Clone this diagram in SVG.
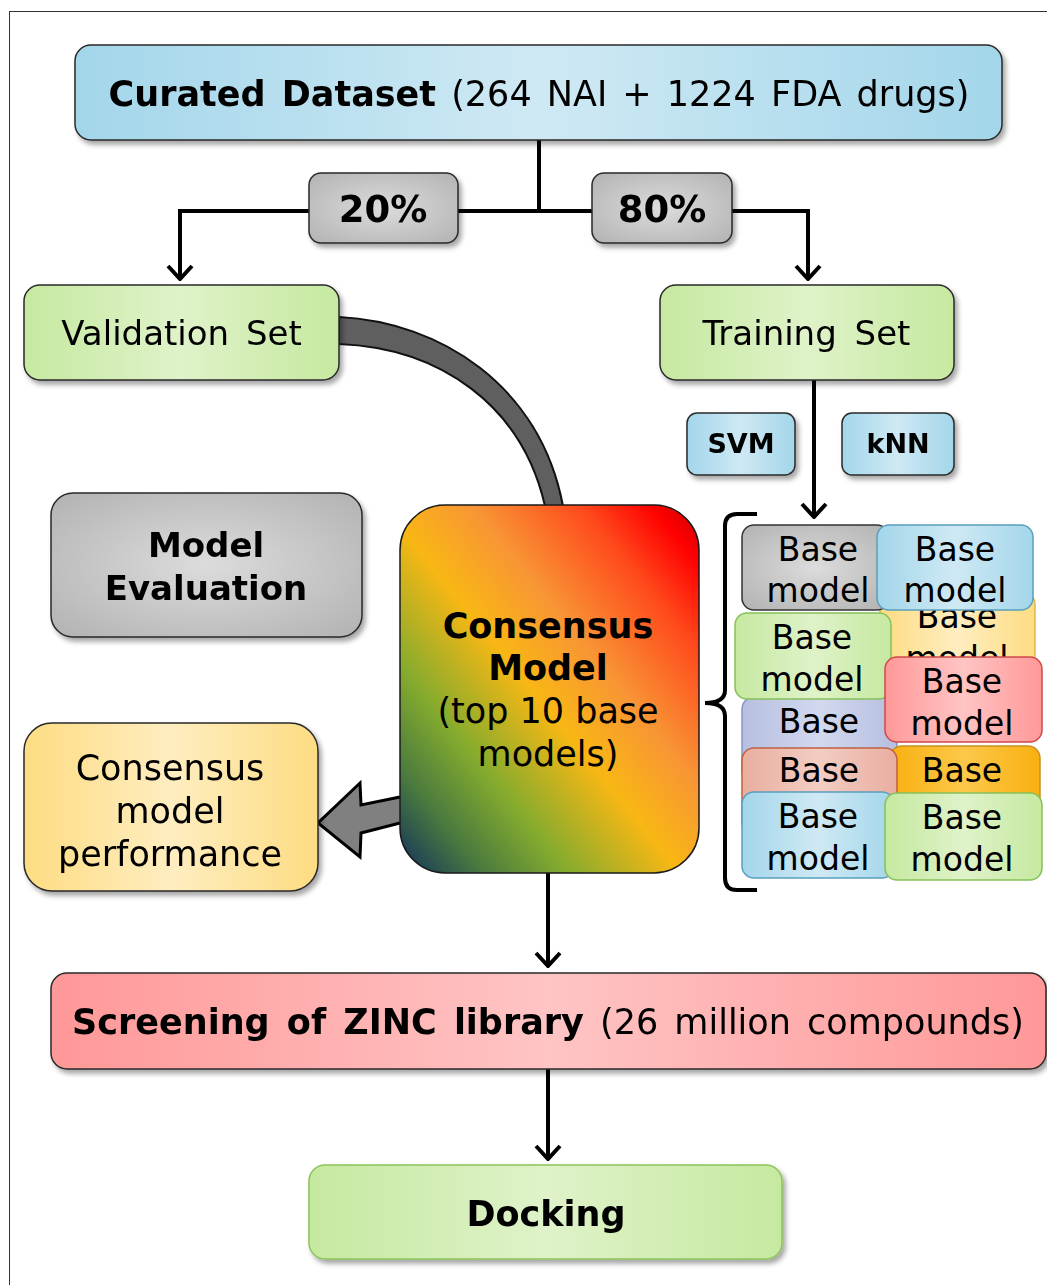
<svg xmlns="http://www.w3.org/2000/svg" width="1047" height="1285" viewBox="0 0 1047 1285">
<defs>
<style>
text{font-family:"DejaVu Sans","Verdana",sans-serif;fill:#000;}
.t35{font-size:35px;}
.t34{font-size:34px;}
.b{font-weight:bold;}
.box{stroke:#2a2a2a;stroke-width:1.5;}
.bm{stroke-width:1.5;}
.conn{stroke:#000;stroke-width:4;fill:none;}
.bm text{font-size:33px;}
</style>
<filter id="sh" x="-10%" y="-10%" width="130%" height="140%">
<feDropShadow dx="3" dy="4" stdDeviation="2.5" flood-color="#000" flood-opacity="0.35"/>
</filter>
<linearGradient id="gBlue" x1="0" y1="0" x2="1" y2="0"><stop offset="0" stop-color="#a3d6ea"/><stop offset="0.5" stop-color="#cfe9f4"/><stop offset="1" stop-color="#a3d6ea"/></linearGradient>
<linearGradient id="gGreen" x1="0" y1="0" x2="1" y2="0"><stop offset="0" stop-color="#c6e9a0"/><stop offset="0.5" stop-color="#dff2c9"/><stop offset="1" stop-color="#c6e9a0"/></linearGradient>
<radialGradient id="gGray" cx="0.5" cy="0.5" r="0.7"><stop offset="0" stop-color="#dcdcdc"/><stop offset="1" stop-color="#b2b2b2"/></radialGradient>
<linearGradient id="gYellow" x1="0" y1="0" x2="1" y2="0"><stop offset="0" stop-color="#fddc82"/><stop offset="0.5" stop-color="#feedc0"/><stop offset="1" stop-color="#fddc82"/></linearGradient>
<linearGradient id="gRed" x1="0" y1="0" x2="1" y2="0"><stop offset="0" stop-color="#ff9898"/><stop offset="0.5" stop-color="#ffc4c4"/><stop offset="1" stop-color="#ff9898"/></linearGradient>
<linearGradient id="gLav" x1="0" y1="0" x2="1" y2="0"><stop offset="0" stop-color="#b6bfe0"/><stop offset="0.5" stop-color="#d2d8ef"/><stop offset="1" stop-color="#b6bfe0"/></linearGradient>
<linearGradient id="gSalmon" x1="0" y1="0" x2="1" y2="0"><stop offset="0" stop-color="#e8ae9f"/><stop offset="0.5" stop-color="#f3cdc3"/><stop offset="1" stop-color="#e8ae9f"/></linearGradient>
<linearGradient id="gOrange" x1="0" y1="0" x2="1" y2="0"><stop offset="0" stop-color="#f9b010"/><stop offset="0.5" stop-color="#fcc84a"/><stop offset="1" stop-color="#f9b010"/></linearGradient>
<linearGradient id="gCons" x1="0" y1="1" x2="1" y2="0"><stop offset="0" stop-color="#102f5e"/><stop offset="0.14" stop-color="#4a7a3e"/><stop offset="0.28" stop-color="#84ab2e"/><stop offset="0.47" stop-color="#f8b714"/><stop offset="0.62" stop-color="#f89535"/><stop offset="0.8" stop-color="#ff4a1c"/><stop offset="0.92" stop-color="#ff0000"/><stop offset="1" stop-color="#c80000"/></linearGradient>
<marker id="ah" viewBox="-16 -14 18 28" refX="0" refY="0" markerWidth="18" markerHeight="28" markerUnits="userSpaceOnUse" orient="auto">
<path d="M-13,-12 L0,0 L-13,12" fill="none" stroke="#000" stroke-width="4" stroke-linejoin="miter"/>
</marker>
</defs>

<rect x="9.5" y="11.5" width="1100" height="1300" fill="#fff" stroke="#333" stroke-width="1"/>

<g id="connectors">
<path class="conn" d="M539,140 L539,211"/>
<path class="conn" d="M180,211 L808,211" stroke-width="5"/>
<path class="conn" d="M180,209 L180,279" marker-end="url(#ah)"/>
<path class="conn" d="M808,209 L808,279" marker-end="url(#ah)"/>
<path class="conn" d="M814,380 L814,517" marker-end="url(#ah)"/>
<path class="conn" d="M548,873 L548,966" marker-end="url(#ah)"/>
<path class="conn" d="M548,1069 L548,1159" marker-end="url(#ah)"/>
<path id="curve" d="M339,317 C440,322 540,385 563,506 L545,506 C522,405 440,348 339,344 Z" fill="#5f5f5f" stroke="#111" stroke-width="2"/>
<path id="blockarrow" d="M400,797 L361,805 L360,783 L318,823 L360,857 L361,833 L400,823" fill="#808080" stroke="#000" stroke-width="3" stroke-linejoin="miter"/>
<path id="brace" d="M757,514 L737,514 Q725,514 725,526 L725,690 Q725,703 705,703 Q725,703 725,716 L725,878 Q725,890 737,890 L757,890" fill="none" stroke="#000" stroke-width="4"/>
</g>

<g id="curated" filter="url(#sh)">
<rect class="box" x="75" y="45" width="927" height="95" rx="16" fill="url(#gBlue)"/>
<text class="t35" x="539" y="106" text-anchor="middle" word-spacing="4"><tspan class="b">Curated Dataset</tspan> (264 NAI + 1224 FDA drugs)</text>
</g>

<g id="p20" filter="url(#sh)">
<rect class="box" x="309" y="173" width="149" height="70" rx="12" fill="url(#gGray)"/>
<text class="b" x="383" y="222" text-anchor="middle" font-size="37">20%</text>
</g>
<g id="p80" filter="url(#sh)">
<rect class="box" x="592" y="173" width="140" height="70" rx="12" fill="url(#gGray)"/>
<text class="b" x="662" y="222" text-anchor="middle" font-size="37">80%</text>
</g>

<g id="validation" filter="url(#sh)">
<rect class="box" x="24" y="285" width="315" height="95" rx="16" fill="url(#gGreen)"/>
<text class="t34" x="181.5" y="345" text-anchor="middle" word-spacing="6">Validation Set</text>
</g>
<g id="training" filter="url(#sh)">
<rect class="box" x="660" y="285" width="294" height="95" rx="16" fill="url(#gGreen)"/>
<text class="t34" x="806.5" y="345" text-anchor="middle" word-spacing="7">Training Set</text>
</g>

<g id="svm" filter="url(#sh)">
<rect class="box" x="687" y="413" width="108" height="62" rx="10" fill="url(#gBlue)"/>
<text class="b" x="741" y="453" text-anchor="middle" font-size="27">SVM</text>
</g>
<g id="knn" filter="url(#sh)">
<rect class="box" x="842" y="413" width="112" height="62" rx="10" fill="url(#gBlue)"/>
<text class="b" x="898" y="453" text-anchor="middle" font-size="27">kNN</text>
</g>

<g id="evaluation" filter="url(#sh)">
<rect class="box" x="51" y="493" width="311" height="144" rx="22" fill="url(#gGray)"/>
<text class="b t34" x="206" y="557" text-anchor="middle">Model</text>
<text class="b t34" x="206" y="600" text-anchor="middle">Evaluation</text>
</g>

<g id="consensus">
<rect x="400" y="505" width="299" height="368" rx="45" fill="url(#gCons)" stroke="#1a1a1a" stroke-width="1.5"/>
<text class="b t35" x="548" y="638" text-anchor="middle">Consensus</text>
<text class="b t35" x="548" y="680" text-anchor="middle">Model</text>
<text class="t35" x="548" y="723" text-anchor="middle">(top 10 base</text>
<text class="t35" x="548" y="766" text-anchor="middle">models)</text>
</g>

<g id="performance" filter="url(#sh)">
<rect class="box" x="24" y="723" width="294" height="168" rx="28" fill="url(#gYellow)"/>
<text class="t35" x="170" y="780" text-anchor="middle">Consensus</text>
<text class="t35" x="170" y="823" text-anchor="middle">model</text>
<text class="t35" x="170" y="866" text-anchor="middle">performance</text>
</g>

<g id="basemodels">
<g class="bm" id="bm3"><rect x="880" y="592" width="155" height="86" rx="12" fill="url(#gYellow)" stroke="#e0b84a"/><text x="957" y="628" text-anchor="middle">Base</text><text x="957" y="670" text-anchor="middle">model</text></g>
<g class="bm" id="bm6"><rect x="742" y="697" width="155" height="86" rx="12" fill="url(#gLav)" stroke="#8a94c4"/><text x="819" y="733" text-anchor="middle">Base</text></g>
<g class="bm" id="bm8"><rect x="890" y="746" width="150" height="86" rx="12" fill="url(#gOrange)" stroke="#c99020"/><text x="962" y="782" text-anchor="middle">Base</text></g>
<g class="bm" id="bm1"><rect x="742" y="525" width="147" height="85" rx="12" fill="url(#gGray)" stroke="#333"/><text x="818" y="561" text-anchor="middle">Base</text><text x="818" y="602" text-anchor="middle">model</text></g>
<g class="bm" id="bm2"><rect x="877" y="525" width="156" height="85" rx="12" fill="url(#gBlue)" stroke="#5a9fbd"/><text x="955" y="561" text-anchor="middle">Base</text><text x="955" y="602" text-anchor="middle">model</text></g>
<g class="bm" id="bm4"><rect x="735" y="613" width="156" height="86" rx="12" fill="url(#gGreen)" stroke="#86c05a"/><text x="812" y="649" text-anchor="middle">Base</text><text x="812" y="691" text-anchor="middle">model</text></g>
<g class="bm" id="bm5"><rect x="885" y="657" width="157" height="85" rx="12" fill="url(#gRed)" stroke="#d04848"/><text x="962" y="693" text-anchor="middle">Base</text><text x="962" y="735" text-anchor="middle">model</text></g>
<g class="bm" id="bm7"><rect x="742" y="748" width="155" height="86" rx="12" fill="url(#gSalmon)" stroke="#c06040"/><text x="819" y="782" text-anchor="middle">Base</text></g>
<g class="bm" id="bm9"><rect x="742" y="792" width="152" height="86" rx="12" fill="url(#gBlue)" stroke="#5a9fbd"/><text x="818" y="828" text-anchor="middle">Base</text><text x="818" y="870" text-anchor="middle">model</text></g>
<g class="bm" id="bm10"><rect x="885" y="793" width="157" height="87" rx="12" fill="url(#gGreen)" stroke="#86c05a"/><text x="962" y="829" text-anchor="middle">Base</text><text x="962" y="871" text-anchor="middle">model</text></g>
</g>

<g id="screening" filter="url(#sh)">
<rect class="box" x="51" y="973" width="995" height="96" rx="16" fill="url(#gRed)"/>
<text class="t35" x="548" y="1034" text-anchor="middle" word-spacing="5"><tspan class="b">Screening of ZINC library</tspan> (26 million compounds)</text>
</g>

<g id="docking" filter="url(#sh)">
<rect x="309" y="1165" width="473" height="94" rx="16" fill="url(#gGreen)" stroke="#8cc45a" stroke-width="1.5"/>
<text class="b t35" x="546" y="1226" text-anchor="middle">Docking</text>
</g>
</svg>
